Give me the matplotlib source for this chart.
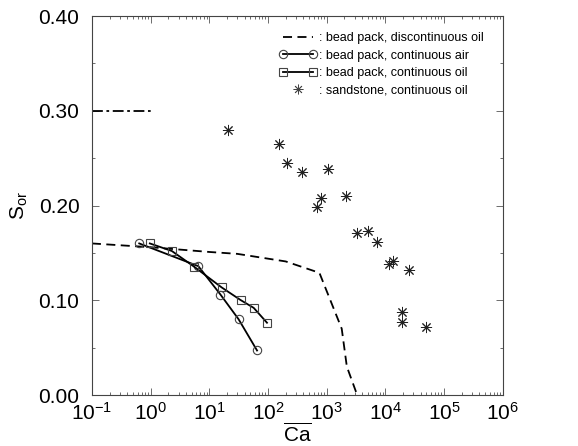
import matplotlib
matplotlib.use('Agg')
import matplotlib.pyplot as plt
from matplotlib.lines import Line2D
from matplotlib.legend_handler import HandlerLine2D
from matplotlib.ticker import MultipleLocator, FormatStrFormatter, LogLocator

plt.rcParams['font.family'] = ['Liberation Sans', 'DejaVu Sans']
plt.rcParams['mathtext.fontset'] = 'custom'
plt.rcParams['mathtext.rm'] = 'Liberation Sans'
plt.rcParams['mathtext.it'] = 'Liberation Sans'

# bead pack, discontinuous oil (dashed)
disc_ca = [0.1, 1.0, 10.0, 30.0, 200.0, 750.0, 1800.0, 2200.0, 3300.0]
disc_sor = [0.160, 0.156, 0.151, 0.149, 0.141, 0.129, 0.070, 0.030, 0.0]

# bead pack, continuous air (circles)
air_ca = [0.64, 6.5, 15.5, 31.5, 65.0]
air_sor = [0.160, 0.136, 0.106, 0.080, 0.047]

# bead pack, continuous oil (squares)
oil_ca = [0.97, 2.3, 5.5, 16.2, 34.0, 57.0, 96.0]
oil_sor = [0.160, 0.152, 0.1355, 0.1136, 0.1003, 0.092, 0.0763]

# sandstone, continuous oil (asterisks)
sand_ca = [21, 156, 212, 373, 1070, 800, 690, 2130, 3300, 5000, 7300,
           11300, 13300, 25500, 19000, 19000, 50000]
sand_sor = [0.280, 0.265, 0.245, 0.235, 0.239, 0.2076, 0.198, 0.210, 0.171,
            0.173, 0.161, 0.138, 0.141, 0.132, 0.088, 0.0767, 0.072]

# dash-dot reference level
ref_ca = [0.1, 1.0]
ref_sor = [0.30, 0.30]


class RightMarker(HandlerLine2D):
    # put the single marker at the right end of the handle
    def get_xdata(self, legend, xdescent, ydescent, width, height, fontsize):
        xdata, _ = super().get_xdata(legend, xdescent, ydescent, width, height, fontsize)
        return xdata, [-xdescent + width - 0.3 * fontsize]


fig = plt.figure(figsize=(5.78, 4.46), dpi=100)
ax = fig.add_axes([0.159, 0.1143, 0.711, 0.8497])

ast = (8, 2, 0)
ax.plot(disc_ca, disc_sor, color='black', ls=(0, (5, 3)), lw=1.3)
ax.plot(air_ca, air_sor, color='black', lw=1.3, marker='o', ms=6,
        mfc='none', mec='#444444', mew=0.8)
ax.plot(oil_ca, oil_sor, color='black', lw=1.3, marker='s', ms=6,
        mfc='none', mec='#444444', mew=0.8)
ax.plot(sand_ca, sand_sor, ls='none', marker=ast, ms=8,
        color='#222222', mew=0.7)
ax.plot(ref_ca, ref_sor, color='black', lw=1.3, ls=(0, (6, 2, 1.5, 2)))

ax.set_xscale('log')
ax.set_xlim(0.1, 1e6)
ax.set_ylim(0.0, 0.40)
ax.yaxis.set_major_locator(MultipleLocator(0.10))
ax.yaxis.set_minor_locator(MultipleLocator(0.05))
ax.yaxis.set_major_formatter(FormatStrFormatter('%.2f'))
ax.xaxis.set_major_locator(LogLocator(base=10, numticks=10))
ax.xaxis.set_minor_locator(LogLocator(base=10, subs=range(2, 10), numticks=20))
ax.tick_params(which='both', direction='in', top=True, right=True,
               labelsize=15, width=0.6, color='#555555')
ax.tick_params(which='major', length=5)
ax.tick_params(which='minor', length=2.5)
ax.tick_params(axis='y', which='major', pad=9)
ax.tick_params(axis='x', which='major', pad=5)
for s in ax.spines.values():
    s.set_linewidth(0.8)
    s.set_color('#444444')

ax.set_ylabel(r'$\mathdefault{S_{or}}$', fontsize=15, labelpad=6)
ax.set_xlabel(r'$\overline{\mathdefault{Ca}}$', fontsize=15, labelpad=-1)

sand_handle = Line2D([], [], ls='none', marker=ast, ms=7, color='#444444', mew=0.6)
handles = [
    Line2D([], [], color='black', ls=(0, (5, 3)), lw=1.3),
    Line2D([], [], color='black', lw=1.3, marker='o', ms=6, mfc='none',
           mec='#444444', mew=0.8),
    Line2D([], [], color='black', lw=1.3, marker='s', ms=6, mfc='none',
           mec='#444444', mew=0.8),
    sand_handle,
]
labels = [': bead pack, discontinuous oil',
          ': bead pack, continuous air',
          ': bead pack, continuous oil',
          ': sandstone, continuous oil']
ax.legend(handles, labels, loc='upper right', frameon=False, fontsize=9,
          numpoints=2, handlelength=3.0, handletextpad=0.15,
          labelspacing=0.42, borderaxespad=0.0,
          bbox_to_anchor=(0.965, 0.97),
          handler_map={sand_handle: RightMarker(numpoints=1)})

fig.savefig('out.png', dpi=100)
